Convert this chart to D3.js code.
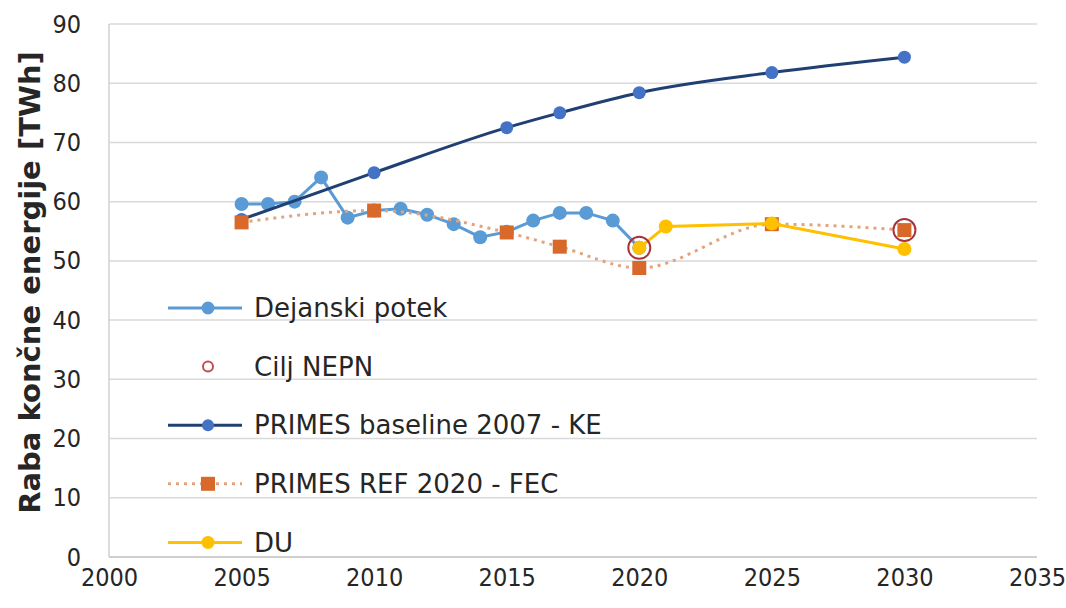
<!DOCTYPE html>
<html>
<head>
<meta charset="utf-8">
<script src="https://cdn.jsdelivr.net/npm/d3@7"></script>
<style>
  body { margin: 0; background: #fff; }
  text { font-family: 'DejaVu Sans', Verdana, sans-serif; fill: #262626; }
  .tick text { font-stretch: condensed; }
</style>
</head>
<body>
<div class="chart"></div>
<script>
// values
const actualYears = [2005, 2006, 2007, 2008, 2009, 2010, 2011, 2012, 2013, 2014, 2015, 2016, 2017, 2018, 2019, 2020];
const actualValues = [59.6, 59.6, 60.0, 64.1, 57.3, 58.5, 58.8, 57.8, 56.2, 54.0, 54.9, 56.8, 58.1, 58.1, 56.8, 52.2];
const targetYears = [2020, 2030];
const targetValues = [52.2, 55.2];
const baselineYears = [2005, 2010, 2015, 2017, 2020, 2025, 2030];
const baselineValues = [57.0, 64.9, 72.5, 75.0, 78.4, 81.8, 84.4];
const refYears = [2005, 2010, 2015, 2017, 2020, 2025, 2030];
const refValues = [56.5, 58.5, 54.8, 52.4, 48.8, 56.2, 55.2];
const duYears = [2020, 2021, 2025, 2030];
const duValues = [52.2, 55.8, 56.3, 52.0];

const xTicks = [2000, 2005, 2010, 2015, 2020, 2025, 2030, 2035];
const yTicks = [0, 10, 20, 30, 40, 50, 60, 70, 80, 90];
const legendNames = ['Dejanski potek', 'Cilj NEPN', 'PRIMES baseline 2007 - KE', 'PRIMES REF 2020 - FEC', 'DU'];

const zip = (xs, ys) => xs.map((x, i) => ({x: x, y: ys[i]}));

const margin = ({top: 24, right: 29, bottom: 51, left: 109});
const width = 1066 - margin.left - margin.right;
const height = 608 - margin.top - margin.bottom;

const svg = d3.select('.chart')
  .append('svg')
  .attr('width', 1066)
  .attr('height', 608)
  .append('g')
  .attr('transform', 'translate(' + margin.left + ',' + margin.top + ')');

const xScale = d3.scaleLinear().domain([2000, 2035]).range([0, width]);
const yScale = d3.scaleLinear().domain([0, 90]).range([height, 0]);

// gridlines
svg.selectAll('.grid')
  .data(yTicks)
  .enter()
  .append('line')
  .attr('x1', 0)
  .attr('x2', width)
  .attr('y1', d => yScale(d))
  .attr('y2', d => yScale(d))
  .attr('stroke', d => d === 0 ? '#bfbfbf' : '#d9d9d9')
  .attr('stroke-width', 1.5);

svg.append('line')
  .attr('x1', 0).attr('x2', 0)
  .attr('y1', 0).attr('y2', height)
  .attr('stroke', '#d0d0d0')
  .attr('stroke-width', 1.5);

const xAxis = d3.axisBottom(xScale).tickValues(xTicks).tickFormat(d3.format('d')).tickSize(0).tickPadding(11);
const yAxis = d3.axisLeft(yScale).tickValues(yTicks).tickSize(0).tickPadding(28);

svg.append('g')
  .attr('transform', `translate(0, ${height})`)
  .call(xAxis)
  .call(g => g.select('.domain').remove())
  .selectAll('text')
  .style('font-size', '25px')
  .attr('fill', '#262626');

svg.append('g')
  .call(yAxis)
  .call(g => g.select('.domain').remove())
  .selectAll('text')
  .style('font-size', '25px')
  .attr('fill', '#262626');

svg.append('text')
  .attr('transform', `translate(${30 - margin.left}, ${height / 2 - 8}) rotate(-90)`)
  .attr('text-anchor', 'middle')
  .attr('dy', '0.35em')
  .style('font-size', '29px')
  .style('font-weight', 'bold')
  .text('Raba končne energije [TWh]');

const line = d3.line().x(d => xScale(d.x)).y(d => yScale(d.y));
const smooth = d3.line().x(d => xScale(d.x)).y(d => yScale(d.y)).curve(d3.curveMonotoneX);

// Dejanski potek
svg.append('path')
  .datum(zip(actualYears, actualValues))
  .attr('d', line)
  .attr('fill', 'none')
  .attr('stroke', '#5b9bd5')
  .attr('stroke-width', 3);

svg.selectAll('.actual')
  .data(zip(actualYears, actualValues))
  .enter()
  .append('circle')
  .attr('cx', d => xScale(d.x))
  .attr('cy', d => yScale(d.y))
  .attr('r', 7)
  .attr('fill', '#5b9bd5');

// PRIMES baseline
svg.append('path')
  .datum(zip(baselineYears, baselineValues))
  .attr('d', smooth)
  .attr('fill', 'none')
  .attr('stroke', '#203f73')
  .attr('stroke-width', 3);

svg.selectAll('.base')
  .data(zip(baselineYears, baselineValues))
  .enter()
  .append('circle')
  .attr('cx', d => xScale(d.x))
  .attr('cy', d => yScale(d.y))
  .attr('r', 6.5)
  .attr('fill', '#4472c4');

// PRIMES REF
svg.append('path')
  .datum(zip(refYears, refValues))
  .attr('d', smooth)
  .attr('fill', 'none')
  .attr('stroke', '#e3a37c')
  .attr('stroke-width', 3)
  .attr('stroke-dasharray', '3,5');

svg.selectAll('.ref')
  .data(zip(refYears, refValues))
  .enter()
  .append('rect')
  .attr('x', d => xScale(d.x) - 7)
  .attr('y', d => yScale(d.y) - 7)
  .attr('width', 14)
  .attr('height', 14)
  .attr('fill', '#d8692a');

// DU
svg.append('path')
  .datum(zip(duYears, duValues))
  .attr('d', line)
  .attr('fill', 'none')
  .attr('stroke', '#ffc000')
  .attr('stroke-width', 3);

svg.selectAll('.du')
  .data(zip(duYears, duValues))
  .enter()
  .append('circle')
  .attr('cx', d => xScale(d.x))
  .attr('cy', d => yScale(d.y))
  .attr('r', 7)
  .attr('fill', '#ffc000');

// Cilj NEPN
svg.selectAll('.target')
  .data(zip(targetYears, targetValues))
  .enter()
  .append('circle')
  .attr('cx', d => xScale(d.x))
  .attr('cy', d => yScale(d.y))
  .attr('r', 11)
  .attr('fill', 'none')
  .attr('stroke', '#a8343a')
  .attr('stroke-width', 2);

// legend
const legend = svg.append('g')
  .attr('transform', `translate(${168 - margin.left}, ${308 - margin.top})`);

const legendItems = legend.selectAll('g')
  .data(legendNames)
  .enter()
  .append('g')
  .attr('transform', (d, i) => `translate(0, ${i * 58.6})`);

legendItems.filter((d, i) => i !== 1)
  .append('line')
  .attr('x1', 0)
  .attr('x2', 74)
  .attr('stroke', (d, i) => ['#5b9bd5', '#203f73', '#e3a37c', '#ffc000'][i])
  .attr('stroke-width', 3)
  .attr('stroke-dasharray', (d, i) => i === 2 ? '3,5' : null);

legendItems.each(function(d, i) {
  const g = d3.select(this);
  if (i === 0) g.append('circle').attr('cx', 40).attr('r', 6.5).attr('fill', '#5b9bd5');
  if (i === 1) g.append('circle').attr('cx', 40).attr('r', 5).attr('fill', 'none').attr('stroke', '#c0504d').attr('stroke-width', 2);
  if (i === 2) g.append('circle').attr('cx', 40).attr('r', 6).attr('fill', '#4472c4');
  if (i === 3) g.append('rect').attr('x', 33).attr('y', -7).attr('width', 14).attr('height', 14).attr('fill', '#d8692a');
  if (i === 4) g.append('circle').attr('cx', 40).attr('r', 6.5).attr('fill', '#ffc000');
});

legendItems.append('text')
  .attr('x', 86)
  .attr('dy', '0.35em')
  .style('font-size', '26px')
  .text(d => d);
</script>
</body>
</html>
